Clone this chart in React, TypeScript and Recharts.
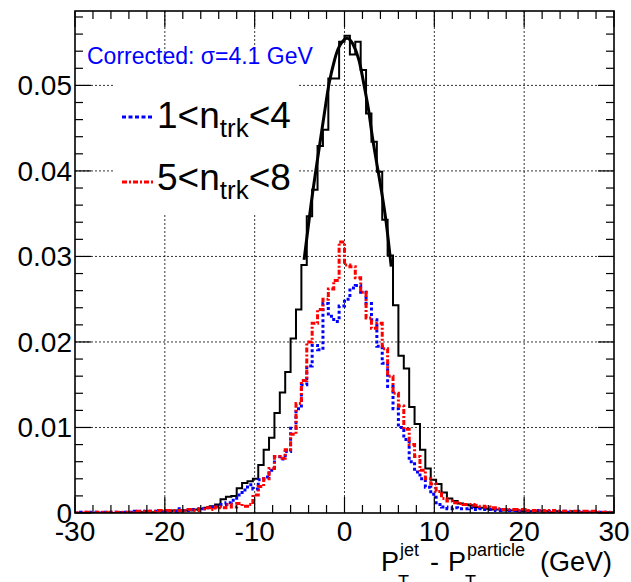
import React from 'react';
import { LineChart, Line, XAxis, YAxis, CartesianGrid } from 'recharts';

// histogram binning: 100 bins of 0.6 GeV from -30 to 30
const binStart = -30;
const binWidth = 0.6;

// all jets (black, solid)
const allJets = [
    0, 0, 0, 0, 0, 0.0001, 0, 0, 0.0001, 0.0001,
    0.0001, 0.0001, 0.0001, 0.0002, 0.0001, 0.0002, 0.0002, 0.0002, 0.0003, 0.0002,
    0.0003, 0.0003, 0.0004, 0.0005, 0.0006, 0.0008, 0.0010, 0.0016, 0.0019, 0.0020,
    0.0029, 0.0035, 0.0037, 0.0040, 0.0056, 0.0074, 0.0088, 0.0117, 0.0141, 0.0165,
    0.0204, 0.0238, 0.0290, 0.0347, 0.0378, 0.0429, 0.0448, 0.0508, 0.0508, 0.0551,
    0.0558, 0.0536, 0.0551, 0.0518, 0.0467, 0.0434, 0.0399, 0.0343, 0.0301, 0.0243,
    0.0184, 0.0169, 0.0124, 0.0104, 0.0074, 0.0052, 0.0039, 0.0034, 0.0024, 0.0017,
    0.0014, 0.0011, 0.0010, 0.0009, 0.0007, 0.0006, 0.0005, 0.0004, 0.0004, 0.0003,
    0.0003, 0.0003, 0.0002, 0.0003, 0.0002, 0.0002, 0.0002, 0.0002, 0.0001, 0.0002,
    0.0001, 0.0001, 0.0002, 0.0001, 0.0001, 0.0001, 0.0001, 0.0001, 0.0001, 0.0001,
];

// 1 < ntrk < 4 (blue, dotted)
const lowNtrk = [
    0, 0.0001, 0, 0.0001, 0, 0.0001, 0.0001, 0.0001, 0, 0.0001,
    0.0001, 0.0002, 0.0001, 0.0002, 0.0002, 0.0002, 0.0003, 0.0002, 0.0002, 0.0005,
    0.0003, 0.0004, 0.0004, 0.0005, 0.0006, 0.0007, 0.0008, 0.0010, 0.0012, 0.0015,
    0.0021, 0.0027, 0.0033, 0.0028, 0.0039, 0.0042, 0.0050, 0.0066, 0.0063, 0.0072,
    0.0099, 0.0122, 0.0150, 0.0172, 0.0196, 0.0191, 0.0245, 0.0230, 0.0224, 0.0242,
    0.0250, 0.0263, 0.0266, 0.0258, 0.0245, 0.0226, 0.0195, 0.0175, 0.0148, 0.0122,
    0.0100, 0.0086, 0.0060, 0.0048, 0.0040, 0.0030, 0.0022, 0.0010, 0.0007, 0.0005,
    0.0006, 0.0005, 0.0005, 0.0006, 0.0004, 0.0005, 0.0004, 0.0004, 0.0003, 0.0004,
    0.0003, 0.0003, 0.0002, 0.0003, 0.0002, 0.0002, 0.0003, 0.0002, 0.0002, 0.0001,
    0.0002, 0.0001, 0.0001, 0.0002, 0.0001, 0.0001, 0.0001, 0.0001, 0.0001, 0,
];

// 5 < ntrk < 8 (red, dash-dot)
const highNtrk = [
    0, 0, 0.0001, 0, 0.0001, 0, 0.0001, 0.0001, 0.0001, 0.0001,
    0.0001, 0.0002, 0.0002, 0.0002, 0.0002, 0.0003, 0.0002, 0.0003, 0.0003, 0.0003,
    0.0003, 0.0004, 0.0003, 0.0005, 0.0006, 0.0004, 0.0007, 0.0006, 0.0010, 0.0007,
    0.0011, 0.0008, 0.0010, 0.0021, 0.0031, 0.0040, 0.0052, 0.0066, 0.0064, 0.0074,
    0.0092, 0.0128, 0.0155, 0.0200, 0.0222, 0.0238, 0.0250, 0.0262, 0.0272, 0.0317,
    0.0290, 0.0288, 0.0275, 0.0258, 0.0228, 0.0216, 0.0222, 0.0192, 0.0160, 0.0140,
    0.0125, 0.0098, 0.0080, 0.0066, 0.0050, 0.0040, 0.0034, 0.0025, 0.0017, 0.0014,
    0.0012, 0.0011, 0.0010, 0.0010, 0.0009, 0.0008, 0.0007, 0.0006, 0.0005, 0.0004,
    0.0004, 0.0004, 0.0003, 0.0004, 0.0003, 0.0003, 0.0003, 0.0002, 0.0003, 0.0002,
    0.0002, 0.0002, 0.0002, 0.0001, 0.0002, 0.0001, 0.0002, 0.0001, 0.0001, 0.0001,
];

// gaussian fit curve
const fitX = [-4.5, -4.0, -3.5, -2.8, -2.2, -1.7, -1.1, -0.6, 0.2, 0.9, 1.6, 2.2, 2.7, 3.1, 3.9, 4.6, 5.2];
const fitY = [0.0296, 0.0338, 0.0378, 0.0428, 0.0470, 0.0503, 0.0530, 0.0545, 0.0555, 0.0549, 0.0530, 0.0499, 0.0470, 0.0440, 0.0390, 0.0343, 0.0288];

const xTicks = [-30, -28, -26, -24, -22, -20, -18, -16, -14, -12, -10, -8, -6, -4, -2, 0, 2, 4, 6, 8, 10, 12, 14, 16, 18, 20, 22, 24, 26, 28, 30];
const xMajor = [-30, -20, -10, 0, 10, 20, 30];
const yTicks = [0, 0.002, 0.004, 0.006, 0.008, 0.01, 0.012, 0.014, 0.016, 0.018, 0.02, 0.022, 0.024, 0.026, 0.028,
    0.03, 0.032, 0.034, 0.036, 0.038, 0.04, 0.042, 0.044, 0.046, 0.048, 0.05, 0.052, 0.054, 0.056, 0.058];
const yMajor = [0, 0.01, 0.02, 0.03, 0.04, 0.05];
const yMax = 0.0587;

const histData = allJets.concat([allJets[allJets.length - 1]]).map((_, i) => ({
    x: binStart + binWidth * i,
    all: allJets[Math.min(i, allJets.length - 1)],
    low: lowNtrk[Math.min(i, lowNtrk.length - 1)],
    high: highNtrk[Math.min(i, highNtrk.length - 1)],
}));
const fitData = fitX.map((x, i) => ({ x, fit: fitY[i] }));

const W = 631;
const H = 582;
const PLOT = { left: 75, top: 11, right: 614, bottom: 513 };
const FONT = '"Liberation Sans", Arial, Helvetica, sans-serif';
const MAJOR_LEN = 16;
const MINOR_LEN = 8;

const isIn = (v: number, list: number[]) => list.some(m => Math.abs(m - v) < 1e-9);

const BottomTick = (props: any) => {
    const { x, payload } = props;
    const major = isIn(payload.value, xMajor);
    return (
        <g>
            <line x1={x} x2={x} y1={PLOT.bottom} y2={PLOT.bottom - (major ? MAJOR_LEN : MINOR_LEN)} stroke="#000" strokeWidth={1.2} />
            {major && (
                <text x={x} y={541} textAnchor="middle" fontSize={28} fontFamily={FONT} fill="#000">
                    {payload.value}
                </text>
            )}
        </g>
    );
};

const TopTick = (props: any) => {
    const { x, payload } = props;
    const major = isIn(payload.value, xMajor);
    return <line x1={x} x2={x} y1={PLOT.top} y2={PLOT.top + (major ? MAJOR_LEN : MINOR_LEN)} stroke="#000" strokeWidth={1.2} />;
};

const LeftTick = (props: any) => {
    const { y, payload } = props;
    const major = isIn(payload.value, yMajor);
    return (
        <g>
            <line x1={PLOT.left} x2={PLOT.left + (major ? MAJOR_LEN : MINOR_LEN)} y1={y} y2={y} stroke="#000" strokeWidth={1.2} />
            {major && (
                <text x={72} y={y + 10} textAnchor="end" fontSize={28} fontFamily={FONT} fill="#000">
                    {payload.value === 0 ? '0' : payload.value.toFixed(2)}
                </text>
            )}
        </g>
    );
};

const RightTick = (props: any) => {
    const { y, payload } = props;
    const major = isIn(payload.value, yMajor);
    return <line x1={PLOT.right} x2={PLOT.right - (major ? MAJOR_LEN : MINOR_LEN)} y1={y} y2={y} stroke="#000" strokeWidth={1.2} />;
};

const App: React.FC = () => {
    return (
        <div style={{ position: 'absolute', left: 0, top: 0, width: W, height: H, background: '#fff', fontFamily: FONT }}>
            <LineChart width={W} height={H} data={histData} margin={{ top: 0, right: 0, bottom: 0, left: 0 }}>
                <CartesianGrid
                    stroke="#000"
                    strokeWidth={0.8}
                    strokeDasharray="2 2"
                    verticalValues={[-20, -10, 0, 10, 20]}
                    horizontalValues={[0.01, 0.02, 0.03, 0.04, 0.05]}
                />
                <XAxis
                    dataKey="x"
                    type="number"
                    domain={[-30, 30]}
                    ticks={xTicks}
                    interval={0}
                    allowDataOverflow
                    height={PLOT.bottom > 0 ? H - PLOT.bottom : 0}
                    axisLine={false}
                    tickLine={false}
                    tick={<BottomTick />}
                />
                <XAxis
                    xAxisId="top"
                    orientation="top"
                    dataKey="x"
                    type="number"
                    domain={[-30, 30]}
                    ticks={xTicks}
                    interval={0}
                    allowDataOverflow
                    height={PLOT.top}
                    axisLine={false}
                    tickLine={false}
                    tick={<TopTick />}
                />
                <YAxis
                    type="number"
                    domain={[0, yMax]}
                    ticks={yTicks}
                    interval={0}
                    allowDataOverflow
                    width={PLOT.left}
                    axisLine={false}
                    tickLine={false}
                    tick={<LeftTick />}
                />
                <YAxis
                    yAxisId="right"
                    orientation="right"
                    type="number"
                    domain={[0, yMax]}
                    ticks={yTicks}
                    interval={0}
                    allowDataOverflow
                    width={W - PLOT.right}
                    axisLine={false}
                    tickLine={false}
                    tick={<RightTick />}
                />
                <Line type="stepAfter" dataKey="all" stroke="#000" strokeWidth={2} dot={false} isAnimationActive={false} />
                <Line data={fitData} type="natural" dataKey="fit" stroke="#000" strokeWidth={3} dot={false} isAnimationActive={false} />
                <Line type="stepAfter" dataKey="low" stroke="#0000ff" strokeWidth={3} strokeDasharray="3 2.5" dot={false} isAnimationActive={false} />
                <Line type="stepAfter" dataKey="high" stroke="#ff0000" strokeWidth={3} strokeDasharray="5 2 2 2" dot={false} isAnimationActive={false} />
            </LineChart>

            <svg width={W} height={H} style={{ position: 'absolute', left: 0, top: 0, pointerEvents: 'none' }}>
                <rect x={PLOT.left} y={PLOT.top} width={PLOT.right - PLOT.left} height={PLOT.bottom - PLOT.top} fill="none" stroke="#000" strokeWidth={1.6} />

                <text x={87} y={64} fontSize={23} fontFamily={FONT} fill="#0000ff">Corrected: σ=4.1 GeV</text>

                <rect x={113} y={64} width={185} height={151} fill="#fff" />
                <line x1={122} x2={153} y1={117} y2={117} stroke="#0000ff" strokeWidth={3} strokeDasharray="4 2.5" />
                <text x={157} y={128} fontSize={37} fontFamily={FONT} fill="#000">
                    {'1<n'}
                    <tspan fontSize={26} dy={9}>trk</tspan>
                    <tspan fontSize={37} dy={-9}>{'<4'}</tspan>
                </text>
                <line x1={122} x2={153} y1={182} y2={182} stroke="#ff0000" strokeWidth={3} strokeDasharray="5 2 2 2" />
                <text x={157} y={190} fontSize={37} fontFamily={FONT} fill="#000">
                    {'5<n'}
                    <tspan fontSize={26} dy={9}>trk</tspan>
                    <tspan fontSize={37} dy={-9}>{'<8'}</tspan>
                </text>

                <g fontFamily={FONT} fill="#000">
                    <text x={381} y={571} fontSize={27}>P</text>
                    <text x={398} y={588} fontSize={18}>T</text>
                    <text x={400} y={556} fontSize={18}>jet</text>
                    <text x={430} y={571} fontSize={27}>-</text>
                    <text x={448} y={571} fontSize={27}>P</text>
                    <text x={465} y={588} fontSize={18}>T</text>
                    <text x={467} y={556} fontSize={18}>particle</text>
                    <text x={540} y={571} fontSize={27}>(GeV)</text>
                </g>
            </svg>
        </div>
    );
};

export default App;
